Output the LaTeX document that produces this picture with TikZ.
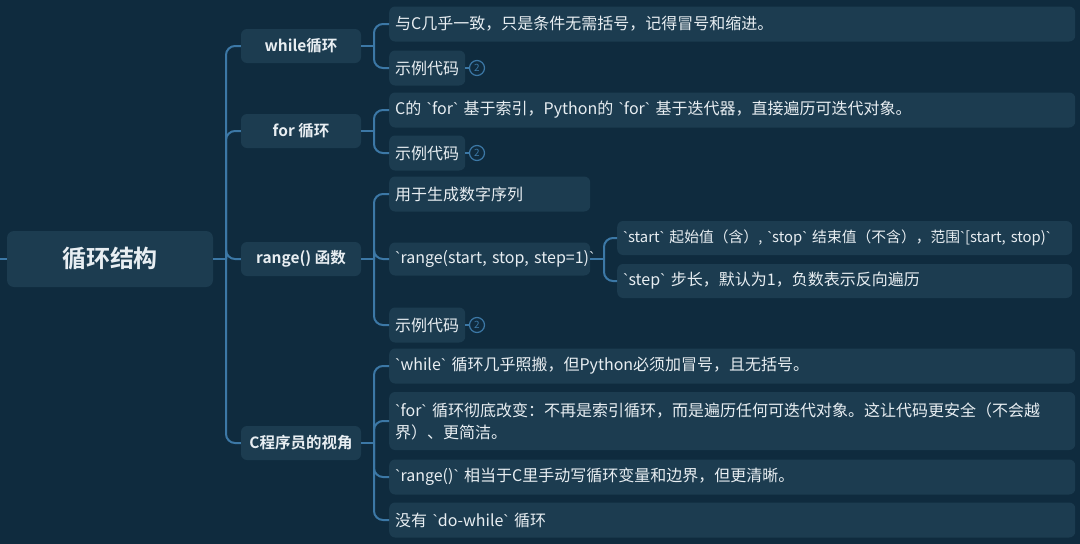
\documentclass[tikz,border=0pt]{standalone}
\usepackage{fontspec}
\setmainfont{Noto Sans CJK SC}[BoldFont={Noto Sans CJK SC Bold},Ligatures=TeXOff]
\newfontfamily\tickfont{Liberation Sans}[Ligatures=TeXOff]
\newcommand\bt{{\tickfont\symbol{96}}}
\definecolor{bg}{RGB}{15,43,62}
\definecolor{boxc}{RGB}{28,60,80}
\definecolor{linec}{RGB}{60,120,166}
\definecolor{txt}{RGB}{232,238,242}
\tikzset{
  conn/.style={draw=linec, line width=2pt, rounded corners=9pt},
  rootbox/.style={fill=boxc, rounded corners=7pt, minimum width=206pt, minimum height=56pt, text=txt, font=\fontsize{24}{28}\selectfont\bfseries, inner sep=0pt},
  lvone/.style={fill=boxc, rounded corners=6pt, minimum width=120pt, minimum height=34pt, text=txt, font=\fontsize{15.5}{18}\selectfont\bfseries, inner sep=0pt},
  lvtwo/.style={fill=boxc, rounded corners=6pt, minimum height=35pt, text=txt, font=\fontsize{16}{22}\selectfont, inner xsep=6pt, inner ysep=0pt, anchor=west, align=left},
  badge/.style={circle, draw=linec, line width=1.2pt, minimum size=15pt, inner sep=0pt, text=linec, font=\fontsize{10}{10}\selectfont},
}
\begin{document}
\begin{tikzpicture}[x=1pt,y=-1pt]
\useasboundingbox (0,0) rectangle (1080,544);
\fill[bg] (0,0) rectangle (1080,544);

% root
\node[rootbox] (root) at (110,259) {循环结构};
\coordinate (lstub) at (0,259);

% level 1
\node[lvone] (wh) at (301,46) {while循环};
\node[lvone] (fo) at (301,131) {for 循环};
\node[lvone] (ra) at (301,259) {range() 函数};
\node[lvone] (cp) at (301,443) {C程序员的视角};

% level 2 : while
\node[lvtwo, text width=674pt] (w1) at (389,24) {与C几乎一致，只是条件无需括号，记得冒号和缩进。};
\node[lvtwo] (w2) at (389,68) {示例代码};
\node[badge] (wb) at (477,68) {2};
% for
\node[lvtwo, text width=674pt] (f1) at (389,110) {C的 \bt for\bt{} 基于索引，Python的 \bt for\bt{} 基于迭代器，直接遍历可迭代对象。};
\node[lvtwo] (f2) at (389,153) {示例代码};
\node[badge] (fb) at (477,153) {2};
% range
\node[lvtwo, text width=189pt] (r1) at (389,194) {用于生成数字序列};
\node[lvtwo, text width=189pt, minimum height=33pt] (r2) at (389,259) {\mbox{\bt range(start, stop, step=1)\bt}};
\node[lvtwo] (r3) at (389,325) {示例代码};
\node[badge] (rb) at (477,325) {2};
\node[lvtwo, text width=443pt, minimum height=34pt, font=\fontsize{14.8}{20}\selectfont] (s1) at (617,238) {\mbox{\bt start\bt{} 起始值（含）, \bt stop\bt{} 结束值（不含），范围\bt[start, stop)\bt}};
\node[lvtwo, text width=443pt, minimum height=34pt] (s2) at (617,281) {\bt step\bt{} 步长，默认为1，负数表示反向遍历};
% C programmer
\node[lvtwo, text width=674pt] (c1) at (389,366) {\bt while\bt{} 循环几乎照搬，但Python必须加冒号，且无括号。};
\node[lvtwo, text width=674pt, minimum height=58pt] (c2) at (389,421) {\mbox{\bt for\bt{} 循环彻底改变：不再是索引循环，而是遍历任何可迭代对象。这让代码更安全（不会越}\\界）、更简洁。};
\node[lvtwo, text width=674pt] (c3) at (389,477) {\bt range()\bt{} 相当于C里手动写循环变量和边界，但更清晰。};
\node[lvtwo, text width=674pt] (c4) at (389,520) {没有 \bt do-while\bt{} 循环};

% connectors
\draw[conn] (lstub) -- (root.west);
\coordinate (t0) at (226,259);
\draw[conn] (root.east) -- (t0);
\foreach \n in {wh,fo,ra,cp} \draw[conn] (t0) |- (\n.west);

\coordinate (tw) at (374,46);
\draw[conn] (wh.east) -- (tw);
\foreach \n in {w1,w2} \draw[conn] (tw) |- (\n.west);
\draw[conn] (w2.east) -- (wb.west);

\coordinate (tf) at (374,131);
\draw[conn] (fo.east) -- (tf);
\foreach \n in {f1,f2} \draw[conn] (tf) |- (\n.west);
\draw[conn] (f2.east) -- (fb.west);

\coordinate (tr) at (374,259);
\draw[conn] (ra.east) -- (tr);
\foreach \n in {r1,r2,r3} \draw[conn] (tr) |- (\n.west);
\draw[conn] (r3.east) -- (rb.west);

\coordinate (ts) at (604,259);
\draw[conn] (r2.east) -- (ts);
\foreach \n in {s1,s2} \draw[conn] (ts) |- (\n.west);

\coordinate (tc) at (374,443);
\draw[conn] (cp.east) -- (tc);
\foreach \n in {c1,c2,c3,c4} \draw[conn] (tc) |- (\n.west);
\end{tikzpicture}
\end{document}
